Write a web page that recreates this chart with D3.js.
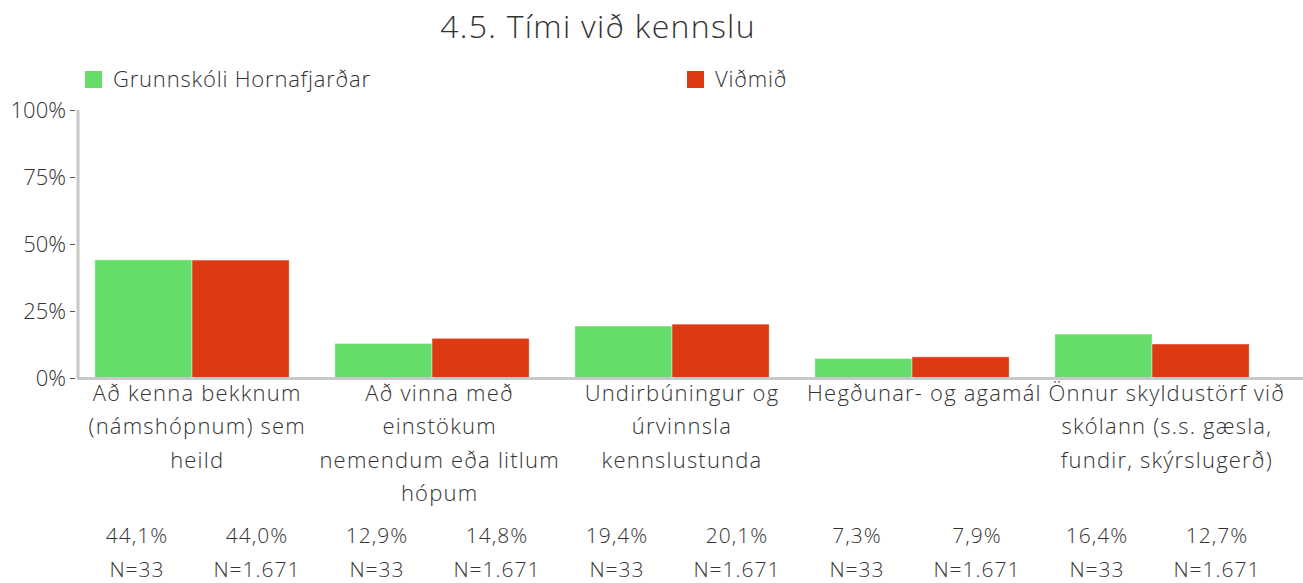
<!DOCTYPE html>
<html>
<head>
<meta charset="utf-8">
<script src="https://cdn.jsdelivr.net/npm/d3@7"></script>
<style>
  html, body { margin: 0; padding: 0; background: #fff; }
  svg text { font-family: "Open Sans", Lato, sans-serif; font-weight: 300; fill: #333; }
</style>
</head>
<body>
<svg id="chart" width="1303" height="583"></svg>
<script>
// Category labels (line breaks as they wrap under the axis)
const categories = [
  "Að kenna bekknum\n(námshópnum) sem\nheild",
  "Að vinna með\neinstökum\nnemendum eða litlum\nhópum",
  "Undirbúningur og\núrvinnsla\nkennslustunda",
  "Hegðunar- og agamál",
  "Önnur skyldustörf við\nskólann (s.s. gæsla,\nfundir, skýrslugerð)"
];
const seriesNames = ["Grunnskóli Hornafjarðar", "Viðmið"];
const schoolValues = [44.1, 12.9, 19.4, 7.3, 16.4];
const benchmarkValues = [44.0, 14.8, 20.1, 7.9, 12.7];
const schoolN = ["N=33", "N=33", "N=33", "N=33", "N=33"];
const benchmarkN = ["N=1.671", "N=1.671", "N=1.671", "N=1.671", "N=1.671"];
const yTicks = [0, 25, 50, 75, 100];
const colors = ["#66dd69", "#dd3a13"];

const svg = d3.select("#chart");
const y0 = 378, y1 = 110;

const x = d3.scaleBand()
  .domain(categories.map((d, i) => i))
  .range([72, 1272])
  .paddingInner(0.19)
  .paddingOuter(0.095);
const xs = d3.scaleBand().domain([0, 1]).range([0, x.bandwidth()]);
const y = d3.scaleLinear().domain([0, 100]).range([y0, y1]);

// Axis label slots and the value table columns underneath
const xLabel = d3.scaleBand().domain(categories.map((d, i) => i)).range([76, 1288]);
const xCol = d3.scaleBand().domain(d3.range(categories.length * 2)).range([77, 1277]);

// Title
svg.append("text")
  .attr("x", 598).attr("y", 38)
  .attr("text-anchor", "middle")
  .style("font-size", "32px")
  .style("letter-spacing", "1.3px")
  .text("4.5. Tími við kennslu");

// Legend
const legendX = [85, 687];
seriesNames.forEach((name, i) => {
  const g = svg.append("g").attr("transform", `translate(${legendX[i]},71)`);
  g.append("rect").attr("width", 17).attr("height", 17).attr("fill", colors[i]);
  g.append("text").attr("x", 28).attr("y", 16)
    .style("font-size", "22px").style("letter-spacing", "0.8px").text(name);
});

// Bars
const series = [schoolValues, benchmarkValues];
const barG = svg.append("g");
categories.forEach((c, i) => {
  series.forEach((vals, s) => {
    barG.append("rect")
      .attr("x", x(i) + xs(s))
      .attr("y", y(vals[i]))
      .attr("width", xs.bandwidth())
      .attr("height", y(0) - y(vals[i]))
      .attr("fill", colors[s])
      .attr("stroke", "rgba(255,255,255,0.45)")
      .attr("stroke-width", 1);
  });
});

// Y axis
const yAxis = d3.axisLeft(y)
  .tickValues(yTicks)
  .tickFormat(d => d + "%")
  .tickSize(5)
  .tickPadding(4);
const ya = svg.append("g").attr("transform", "translate(75,0)").call(yAxis);
ya.select(".domain").remove();
ya.selectAll(".tick line").attr("stroke", "#555");
ya.selectAll(".tick text")
  .attr("dy", "0.36em")
  .style("font-size", "22px")
  .style("font-family", "'Open Sans', Lato, sans-serif")
  .style("font-weight", "300")
  .attr("fill", "#333");

svg.append("line")
  .attr("x1", 78).attr("x2", 78)
  .attr("y1", y(100)).attr("y2", y(0))
  .attr("stroke", "#c8c8c8").attr("stroke-width", 3);
svg.append("line")
  .attr("x1", 77).attr("x2", 1303)
  .attr("y1", y(0) + 0.5).attr("y2", y(0) + 0.5)
  .attr("stroke", "#c8c8c8").attr("stroke-width", 3);

// Category labels
categories.forEach((c, i) => {
  const t = svg.append("text")
    .attr("text-anchor", "middle")
    .style("font-size", "22px")
    .style("letter-spacing", "1.2px");
  c.split("\n").forEach((line, k) => {
    t.append("tspan")
      .attr("x", xLabel(i) + xLabel.bandwidth() / 2)
      .attr("y", 401 + k * 33.3)
      .text(line);
  });
});

// Value and N rows, one column per bar
const fmt = v => v.toFixed(1).replace(".", ",") + "%";
const nLabels = [schoolN, benchmarkN];
categories.forEach((c, i) => {
  series.forEach((vals, s) => {
    const col = i * 2 + s;
    const cx = xCol(col) + xCol.bandwidth() / 2;
    svg.append("text").attr("x", cx).attr("y", 543)
      .attr("text-anchor", "middle").style("font-size", "21px")
      .style("letter-spacing", "1px")
      .text(fmt(vals[i]));
    svg.append("text").attr("x", cx).attr("y", 577)
      .attr("text-anchor", "middle").style("font-size", "21px")
      .style("letter-spacing", "1px")
      .text(nLabels[s][i]);
  });
});
</script>
</body>
</html>
